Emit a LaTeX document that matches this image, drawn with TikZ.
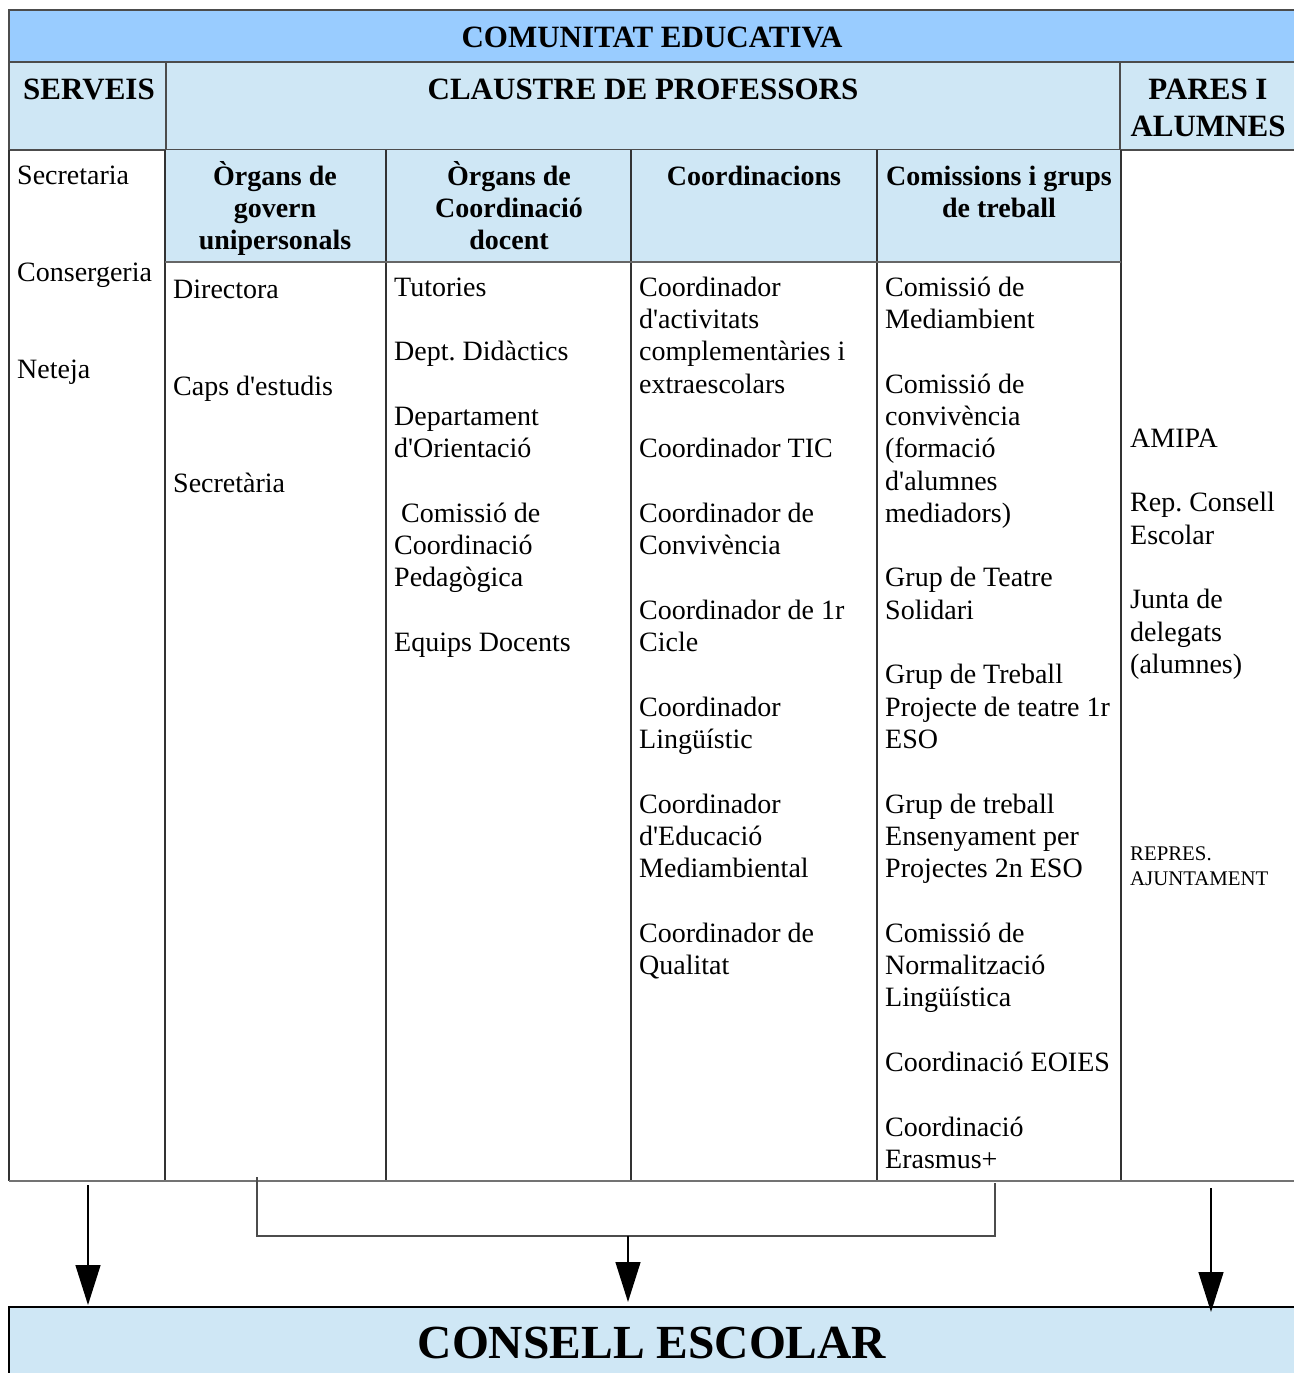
\documentclass[tikz,border=0pt]{standalone}
\usepackage{fontspec}
\setmainfont{Liberation Serif}
\usetikzlibrary{arrows.meta}
\frenchspacing

\definecolor{topblue}{HTML}{99CCFF}
\definecolor{cellblue}{HTML}{CFE7F5}
\newcommand\titlefont{\fontsize{31}{37}\selectfont\bfseries}
\newcommand\headfont{\fontsize{28}{32.3}\selectfont\bfseries}
\newcommand\itemfont{\fontsize{28}{32.3}\selectfont}
\newcommand\smallfont{\fontsize{20.8}{25}\selectfont}
\newcommand\apos{\textquotesingle}
% first line of a block: fixed 30pt above its baseline
\newcommand\firstline{\rule{0pt}{30pt}}

\begin{document}
\begin{tikzpicture}[x=1pt,y=-1pt,>={Triangle[width=25pt,length=40pt]},
    cell/.style={draw=black!70,line width=1.2pt},
    grid/.style={draw=black!80,line width=1.2pt},
    title/.style={anchor=north,inner sep=0pt,align=center,font=\titlefont},
    colhead/.style={anchor=north,inner sep=0pt,align=center,font=\headfont},
    txt/.style={anchor=north west,inner sep=0pt,align=left,font=\itemfont}]
  \useasboundingbox (0,0) rectangle (1293,1373);
  % header bands
  \draw[cell,fill=topblue] (9,10) rectangle (1300,62);
  \draw[cell,fill=cellblue] (9,62) rectangle (166,150);
  \draw[cell,fill=cellblue] (166,62) rectangle (1120,150);
  \draw[cell,fill=cellblue] (1120,62) rectangle (1300,150);
  \fill[cellblue] (165,150) rectangle (1121,262);
  % table lines
  \draw[grid] (9,150) -- (9,1181);
  \draw[grid] (165,150) -- (165,1181);
  \draw[grid] (386,150) -- (386,1181);
  \draw[grid] (631,150) -- (631,1181);
  \draw[grid] (877,150) -- (877,1181);
  \draw[grid] (1121,150) -- (1121,1181);
  \draw[grid,draw=black!60] (165,262) -- (1121,262);
  \draw[draw=black!55,line width=2pt] (9,1181) -- (1300,1181);

  % titles (baseline = y + 30)
  \node[title] (comunitat) at (652,17) {\firstline COMUNITAT EDUCATIVA};
  \node[title] (serveis) at (89,69) {\firstline SERVEIS};
  \node[title] (claustre) at (643,69) {\firstline CLAUSTRE DE PROFESSORS};
  \node[title] (pares) at (1208,69) {\firstline PARES I\\ALUMNES};

  \node[colhead] (govern) at (275,155) {\firstline Òrgans de\\govern\\unipersonals};
  \node[colhead] (coord) at (509,155) {\firstline Òrgans de\\Coordinació\\docent};
  \node[colhead] (coordinacions) at (754,155) {\firstline Coordinacions};
  \node[colhead] (comissions) at (999,155) {\firstline Comissions i grups\\de treball};

  % column contents
  \node[txt] (serveislist) at (17,154) {\firstline Secretaria\\[64.6pt]Consergeria\\[64.6pt]Neteja};
  \node[txt] (governlist) at (173,268) {\firstline Directora\\[64.6pt]Caps d\apos estudis\\[64.6pt]Secretària};
  \node[txt] (coordlist) at (394,266) {\firstline Tutories\\[32.3pt]Dept. Didàctics\\[32.3pt]Departament\\d\apos Orientació\\[32.3pt]\hspace*{7pt}Comissió de\\Coordinació\\Pedagògica\\[32.3pt]Equips Docents};
  \node[txt] (coordinacionslist) at (639,266) {\firstline Coordinador\\d\apos activitats\\complementàries i\\extraescolars\\[32.3pt]Coordinador TIC\\[32.3pt]Coordinador de\\Convivència\\[32.3pt]Coordinador de 1r\\Cicle\\[32.3pt]Coordinador\\Lingüístic\\[32.3pt]Coordinador\\d\apos Educació\\Mediambiental\\[32.3pt]Coordinador de\\Qualitat};
  \node[txt] (comissionslist) at (885,266) {\firstline Comissió de\\Mediambient\\[32.3pt]Comissió de\\convivència\\(formació\\d\apos alumnes\\mediadors)\\[32.3pt]Grup de Teatre\\Solidari\\[32.3pt]Grup de Treball\\Projecte de teatre 1r\\ESO\\[32.3pt]Grup de treball\\Ensenyament per\\Projectes 2n ESO\\[32.3pt]Comissió de\\Normalització\\Lingüística\\[32.3pt]Coordinació EOIES\\[32.3pt]Coordinació\\Erasmus+};
  \node[txt] (pareslist) at (1130,417) {\firstline AMIPA\\[32.3pt]Rep. Consell\\Escolar\\[32.3pt]Junta de\\delegats\\(alumnes)};
  \node[txt,font=\smallfont] (ajuntament) at (1130,830) {\firstline REPRES.\\AJUNTAMENT};

  % consell escolar
  \draw[cell,draw=black,fill=cellblue] (9,1307) rectangle (1300,1380);
  \node[anchor=base,inner sep=0pt,font=\fontsize{47.5}{50}\selectfont\bfseries] (consell) at (652,1358) {CONSELL ESCOLAR};

  % connectors
  \coordinate (serveisend) at (88,1185);
  \coordinate (govend) at (257,1177);
  \coordinate (comisend) at (995,1183);
  \coordinate (join) at (628,1236);
  \coordinate (paresend) at (1211,1188);
  \coordinate (consellleft) at (88,1305);
  \coordinate (consellmid) at (628,1302);
  \coordinate (consellright) at (1211,1312);
  \draw[draw=black!70,line width=2pt] (govend) |- (join) -| (comisend);
  \draw[->,line width=1.4pt] (serveisend) -- (consellleft);
  \draw[->,line width=1.4pt] (join) -- (consellmid);
  \draw[->,line width=1.4pt] (paresend) -- (consellright);
\end{tikzpicture}
\end{document}
